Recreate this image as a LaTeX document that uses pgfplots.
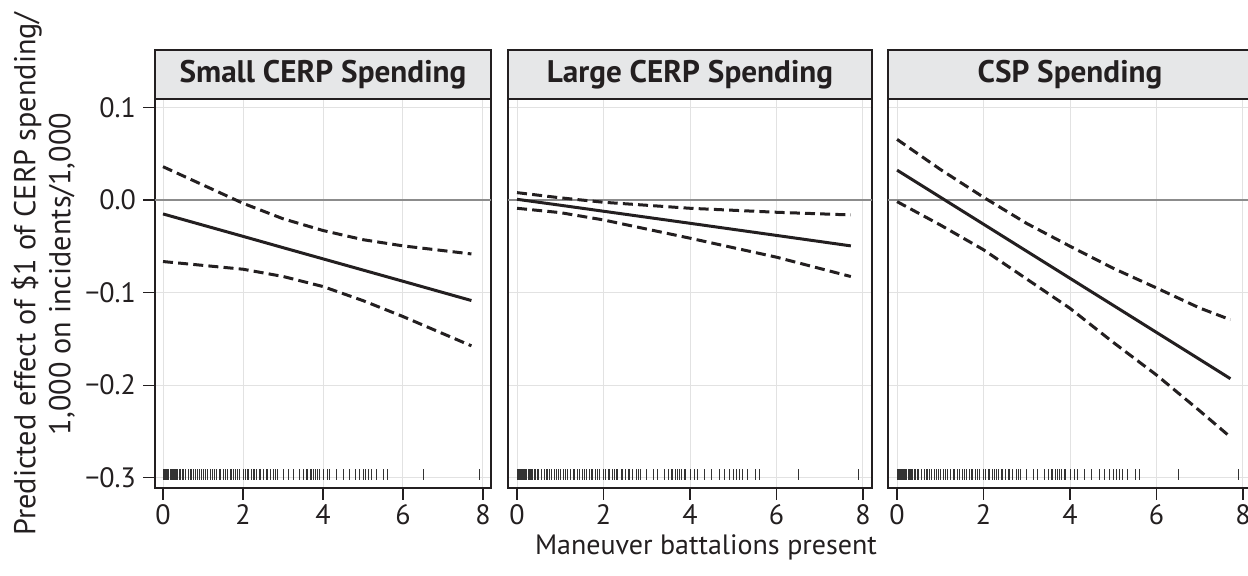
\documentclass[border=0pt]{standalone}
\usepackage{fontspec}
\setmainfont{PT Sans}
\usepackage{pgfplots}
\usepackage{pgfplotstable}
\pgfplotsset{compat=1.18}
\definecolor{ink}{HTML}{231F20}
\definecolor{gridc}{HTML}{E2E2E2}
\definecolor{zeroc}{HTML}{8C8C8C}
\definecolor{strip}{HTML}{E6E7E8}

\pgfplotstableread{
x fit hi lo
0 -0.0151 0.0359 -0.0665
2 -0.0393 -0.0036 -0.0748
3 -0.0515 -0.0203 -0.0826
4 -0.0636 -0.0330 -0.0935
5 -0.0757 -0.0429 -0.1087
6 -0.0878 -0.0496 -0.1259
7.71 -0.1086 -0.0583 -0.1575
}\tabsmall

\pgfplotstableread{
x fit hi lo
0 0.0007 0.0079 -0.0090
1 -0.0057 0.0023 -0.0137
2 -0.0122 -0.0025 -0.0216
4 -0.0252 -0.0090 -0.0413
6 -0.0383 -0.0133 -0.0618
7.72 -0.0496 -0.0162 -0.0827
}\tablarge

\pgfplotstableread{
x fit hi lo
0 0.0322 0.0654 -0.0018
1 0.0030 0.0330 -0.0270
2 -0.0262 0.0029 -0.0538
3 -0.0554 -0.0254 -0.0854
4 -0.0846 -0.0500 -0.1170
5 -0.1138 -0.0738 -0.1538
6 -0.1430 -0.0950 -0.1890
7 -0.1722 -0.1167 -0.2277
7.71 -0.1930 -0.1293 -0.2560
}\tabcsp

\pgfplotstableread{
x y
0 -0.2965
0.03 -0.2965
0.06 -0.2965
0.08 -0.2965
0.10 -0.2965
0.12 -0.2965
0.14 -0.2965
0.17 -0.2965
0.20 -0.2965
0.22 -0.2965
0.25 -0.2965
0.28 -0.2965
0.31 -0.2965
0.33 -0.2965
0.36 -0.2965
0.40 -0.2965
0.43 -0.2965
0.47 -0.2965
0.50 -0.2965
0.56 -0.2965
0.62 -0.2965
0.67 -0.2965
0.71 -0.2965
0.75 -0.2965
0.80 -0.2965
0.86 -0.2965
0.90 -0.2965
0.95 -0.2965
1.00 -0.2965
1.06 -0.2965
1.11 -0.2965
1.17 -0.2965
1.22 -0.2965
1.29 -0.2965
1.33 -0.2965
1.40 -0.2965
1.44 -0.2965
1.50 -0.2965
1.56 -0.2965
1.60 -0.2965
1.67 -0.2965
1.71 -0.2965
1.75 -0.2965
1.80 -0.2965
1.86 -0.2965
1.90 -0.2965
2.00 -0.2965
2.05 -0.2965
2.10 -0.2965
2.14 -0.2965
2.20 -0.2965
2.25 -0.2965
2.29 -0.2965
2.33 -0.2965
2.40 -0.2965
2.44 -0.2965
2.50 -0.2965
2.57 -0.2965
2.60 -0.2965
2.67 -0.2965
2.75 -0.2965
2.80 -0.2965
2.86 -0.2965
3.00 -0.2965
3.14 -0.2965
3.25 -0.2965
3.40 -0.2965
3.50 -0.2965
3.57 -0.2965
3.60 -0.2965
3.67 -0.2965
3.71 -0.2965
3.75 -0.2965
3.80 -0.2965
3.86 -0.2965
3.90 -0.2965
4.00 -0.2965
4.10 -0.2965
4.17 -0.2965
4.33 -0.2965
4.50 -0.2965
4.67 -0.2965
4.80 -0.2965
4.90 -0.2965
5.00 -0.2965
5.07 -0.2965
5.14 -0.2965
5.20 -0.2965
5.33 -0.2965
5.50 -0.2965
5.60 -0.2965
6.50 -0.2965
7.90 -0.2965
}\rugdata

\pgfplotsset{
  panel/.style={
    scale only axis, height=194.5pt, anchor=south west,
    xmin=-0.2, xmax=8.2, ymin=-0.311, ymax=0.109,
    xtick={0,2,4,6,8}, ytick={-0.3,-0.2,-0.1,0,0.1},
    grid=major, major grid style={gridc, line width=0.5pt},
    axis line style={ink, line width=1pt},
    tick style={ink, line width=0.6pt}, tick align=outside,
    major tick length=6pt, xtick pos=bottom, ytick pos=left,
    tick label style={font=\fontsize{14}{16}\selectfont, text=ink},
    xticklabel style={yshift=1pt},
    /pgf/number format/assume math mode=true,
    clip=false,
  },
  fitl/.style={ink, line width=1.5pt},
  cil/.style={ink, line width=1.5pt, dash pattern=on 5pt off 2.6pt},
  rugl/.style={only marks, mark=|, mark size=2.6pt, mark options={black!80, line width=0.3pt}},
}

\newcommand{\strip}[1]{%
  \draw[ink, line width=1pt, fill=strip] (rel axis cs:0,1) rectangle (rel axis cs:1,1.126);
  \node[font=\fontsize{15.6}{18}\selectfont\bfseries, text=ink] at (rel axis cs:0.5,1.063) {#1};
}

\begin{document}
\begin{tikzpicture}
% Panel 1
\begin{axis}[panel, at={(77.5pt,44pt)}, width=168pt,
  yticklabels={−0.3,−0.2,−0.1,0.0,0.1}]
\addplot[zeroc, line width=0.8pt] coordinates {(-0.2,0) (8.2,0)};
\addplot[rugl] table[x=x, y=y] {\rugdata};
\addplot[cil] table[x=x, y=hi] {\tabsmall};
\addplot[cil] table[x=x, y=lo] {\tabsmall};
\addplot[fitl] table[x=x, y=fit] {\tabsmall};
\strip{Small CERP Spending}
\end{axis}
% Panel 2
\begin{axis}[panel, at={(254.2pt,44pt)}, width=181.6pt,
  yticklabels={}, ytick style={draw=none}]
\addplot[zeroc, line width=0.8pt] coordinates {(-0.2,0) (8.2,0)};
\addplot[rugl] table[x=x, y=y] {\rugdata};
\addplot[cil] table[x=x, y=hi] {\tablarge};
\addplot[cil] table[x=x, y=lo] {\tablarge};
\addplot[fitl] table[x=x, y=fit] {\tablarge};
\strip{Large CERP Spending}
\end{axis}
% Panel 3
\begin{axis}[panel, at={(444.2pt,44pt)}, width=181.6pt,
  yticklabels={}, ytick style={draw=none}]
\addplot[zeroc, line width=0.8pt] coordinates {(-0.2,0) (8.2,0)};
\addplot[rugl] table[x=x, y=y] {\rugdata};
\addplot[cil] table[x=x, y=hi] {\tabcsp};
\addplot[cil] table[x=x, y=lo] {\tabcsp};
\addplot[fitl] table[x=x, y=fit] {\tabcsp};
\strip{CSP Spending}
\end{axis}
\node[font=\fontsize{15.1}{17.5}\selectfont, text=ink, rotate=90, align=center]
  at (21.5pt,151pt) {Predicted effect of \$1 of CERP spending/\\1,000 on incidents/1,000};
\node[font=\fontsize{14}{16}\selectfont, text=ink, anchor=base] at (353pt,10.5pt)
  {Maneuver battalions present};
\pgfresetboundingbox
\useasboundingbox (0,0) rectangle (624pt,288pt);
\end{tikzpicture}
\end{document}
